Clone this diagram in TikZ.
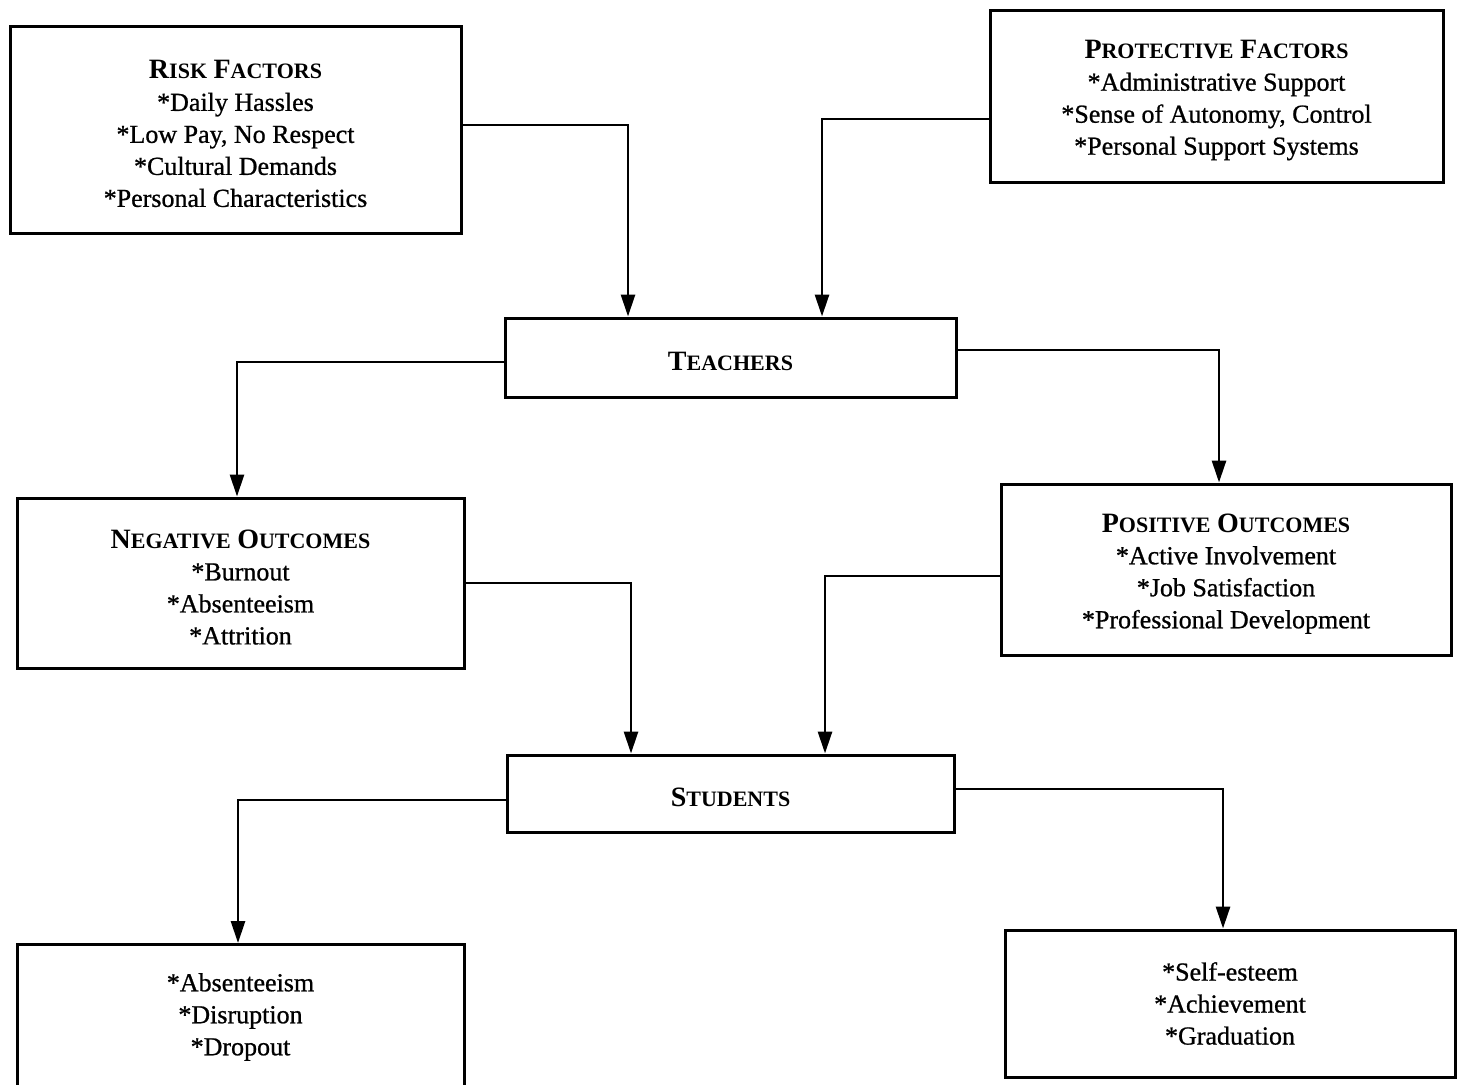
\documentclass[tikz,border=0pt]{standalone}
\usepackage{fontspec}
\setmainfont{Liberation Serif}
\newfontfamily\itemfont{Liberation Serif}[FakeBold=0.8]
\usetikzlibrary{arrows.meta}
\newcommand{\fsc}[2]{{\normalfont\bfseries\fontsize{14}{16}\selectfont #1\fontsize{11}{16}\selectfont #2}}
\newcommand{\hstrut}{\rule{0pt}{13.5pt}}
\tikzset{
  box/.style={draw, line width=1.5pt, align=center, inner sep=0pt,
    font=\itemfont\fontsize{13}{16}\selectfont},
  arr/.style={line width=1.4pt, -{Triangle[width=7pt,length=11pt]}},
}
\begin{document}
\begin{tikzpicture}[x=0.5pt,y=-0.5pt]
\useasboundingbox (0,0) rectangle (1459,1084);
\node[box, minimum width=225.5pt, minimum height=103.5pt] (risk) at (235.5,129.5)
  {\hstrut\fsc{R}{ISK} \fsc{F}{ACTORS}\\*Daily Hassles\\*Low Pay, No Respect\\*Cultural Demands\\*Personal Characteristics};
\node[box, minimum width=226.5pt, minimum height=86pt] (prot) at (1216.5,96)
  {\hstrut\fsc{P}{ROTECTIVE} \fsc{F}{ACTORS}\\*Administrative Support\\*Sense of Autonomy, Control\\*Personal Support Systems};
\node[box, minimum width=225.5pt, minimum height=39.5pt] (teach) at (730.5,357.5)
  {\hstrut\fsc{T}{EACHERS}};
\node[box, minimum width=223.5pt, minimum height=85pt] (neg) at (240.5,583)
  {\hstrut\fsc{N}{EGATIVE} \fsc{O}{UTCOMES}\\*Burnout\\*Absenteeism\\*Attrition};
\node[box, minimum width=225pt, minimum height=85.5pt] (pos) at (1226,569.5)
  {\hstrut\fsc{P}{OSITIVE} \fsc{O}{UTCOMES}\\*Active Involvement\\*Job Satisfaction\\*Professional Development};
\node[box, minimum width=223.5pt, minimum height=38.5pt] (stud) at (730.5,793.5)
  {\hstrut\fsc{S}{TUDENTS}};
\node[box, minimum width=223.5pt, minimum height=72.5pt] (sneg) at (240.5,1017)
  {*Absenteeism\\*Disruption\\*Dropout};
\node[box, minimum width=225pt, minimum height=73.5pt] (spos) at (1230,1003.5)
  {*Self-esteem\\*Achievement\\*Graduation};
% elbow coordinates
\coordinate (c1) at (628,125);
\coordinate (c2) at (822,119);
\coordinate (c3) at (237,362);
\coordinate (c4) at (1219,350);
\coordinate (c5) at (631,583);
\coordinate (c6) at (825,576);
\coordinate (c7) at (238,800);
\coordinate (c8) at (1223,789);
\draw[arr] (risk.east |- c1) -- (c1) -- (c1 |- teach.north);
\draw[arr] (prot.west |- c2) -- (c2) -- (c2 |- teach.north);
\draw[arr] (teach.west |- c3) -- (c3) -- (c3 |- neg.north);
\draw[arr] (teach.east |- c4) -- (c4) -- (c4 |- pos.north);
\draw[arr] (neg.east |- c5) -- (c5) -- (c5 |- stud.north);
\draw[arr] (pos.west |- c6) -- (c6) -- (c6 |- stud.north);
\draw[arr] (stud.west |- c7) -- (c7) -- (c7 |- sneg.north);
\draw[arr] (stud.east |- c8) -- (c8) -- (c8 |- spos.north);
\end{tikzpicture}
\end{document}
